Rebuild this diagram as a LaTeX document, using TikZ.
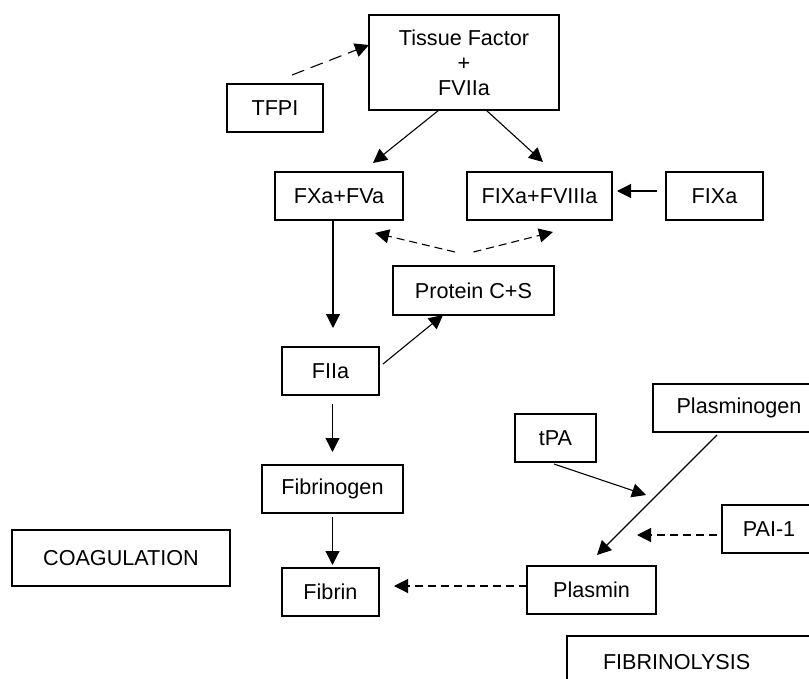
\documentclass[tikz,border=0pt]{standalone}
\usepackage{fontspec}
\setmainfont{Liberation Sans}
\usepackage{tikz}
\tikzstyle{block} = [rectangle, draw, line width=1.3pt, inner sep=0pt, outer sep=0pt,
    align=center, minimum height=48pt, font=\fontsize{21.6}{25}\selectfont]
\tikzstyle{arr} = [line width=1.1pt, -{Triangle[length=14pt,width=14pt]}]
\tikzstyle{dasharr} = [arr, dash pattern=on 8pt off 5pt]
\usetikzlibrary{arrows.meta}
\usetikzlibrary{positioning}

\begin{document}
\begin{tikzpicture}[x=1pt,y=1pt]
    \useasboundingbox (0,0) rectangle (809,-679);
    \clip (0,0) rectangle (809,-679);

    \node[block, minimum width=190pt, minimum height=95pt] (tf) at (464,-62.5) {Tissue Factor\\+\\FVIIa};
    \node[block, minimum width=96pt, left=46pt of tf, yshift=-45.5pt] (tfpi) {TFPI};

    \node[block, minimum width=128pt, below=62pt of tf, xshift=-125pt] (fxa) {FXa+FVa};
    \node[block, minimum width=145pt, right=64pt of fxa] (fixa8) {FIXa+FVIIIa};
    \node[block, minimum width=97pt, right=54pt of fixa8] (fixa) {FIXa};

    \draw[arr, dash pattern=on 13pt off 7pt] ([shift={(17pt,9pt)}]tfpi.north) -- ([yshift=17.5pt]tf.west);
    \draw[arr] ([xshift=-25pt]tf.south) -- ([shift={(34pt,9pt)}]fxa.north);
    \draw[arr] ([xshift=22pt]tf.south) -- ([shift={(3.5pt,10pt)}]fixa8.north);
    \draw[arr, shorten <=9pt, shorten >=5pt] ([yshift=5pt]fixa.west) -- ([yshift=5pt]fixa8.east);

    \node[block, minimum width=161pt, minimum height=49pt, below=46pt of fixa8, xshift=-66pt] (pcs) {Protein C+S};
    \draw[dasharr] ([shift={(-18.5pt,14pt)}]pcs.north) -- ([shift={(36pt,-13pt)}]fxa.south);
    \draw[dasharr] ([yshift=14pt]pcs.north) -- ([shift={(13.5pt,-12pt)}]fixa8.south);

    \node[block, minimum width=97pt, below=127pt of fxa, xshift=-8.5pt] (fiia) {FIIa};
    \draw[arr] ([xshift=-6pt]fxa.south) -- ([shift={(2.5pt,19pt)}]fiia.north);
    \draw[arr] ([shift={(4pt,7pt)}]fiia.east) -- ([xshift=-30.5pt]pcs.south);

    \node[block, minimum width=141pt, below=70pt of fiia, xshift=2pt] (fbg) {Fibrinogen};
    \node[block, minimum width=97pt, below=55pt of fbg, xshift=-2pt] (fibrin) {Fibrin};
    \draw[arr, shorten <=9pt, shorten >=13pt] (fiia.south -| fbg) -- (fbg.north);
    \draw[arr, shorten <=4pt, shorten >=3pt] (fbg.south) -- (fbg.south |- fibrin.north);

    \node[block, minimum width=218pt, minimum height=56pt, left=52pt of fibrin, yshift=34pt] (coag) {COAGULATION};

    \node[block, minimum width=129pt, right=148pt of fibrin, yshift=2pt] (plasmin) {Plasmin};
    \node[block, minimum width=94pt, right=66pt of plasmin, yshift=61pt] (pai) {PAI-1};
    \node[block, minimum width=172pt, above=134pt of plasmin, xshift=147.5pt] (plg) {Plasminogen};
    \node[block, minimum width=81pt, left=57pt of plg, yshift=-30pt] (tpa) {tPA};
    \node[block, text width=200pt, align=left, inner xsep=36pt, minimum height=52pt,
        below=22pt of plasmin, xshift=111.5pt] (fibrinolysis) {FIBRINOLYSIS};

    \coordinate (cleave) at (646,-495);
    \coordinate[left=85pt of pai, yshift=-6pt] (inhibit);

    \draw[arr] ([shift={(-22pt,-3pt)}]plg.south) -- ([shift={(5.5pt,11pt)}]plasmin.north);
    \draw[arr] ([shift={(-1.5pt,-2pt)}]tpa.south) -- (cleave);
    \draw[dasharr, shorten <=5pt] ([yshift=-6pt]pai.west) -- (inhibit);
    \draw[dasharr, shorten >=15pt] ([yshift=4pt]plasmin.west) -- ([yshift=6pt]fibrin.east);
\end{tikzpicture}
\end{document}
